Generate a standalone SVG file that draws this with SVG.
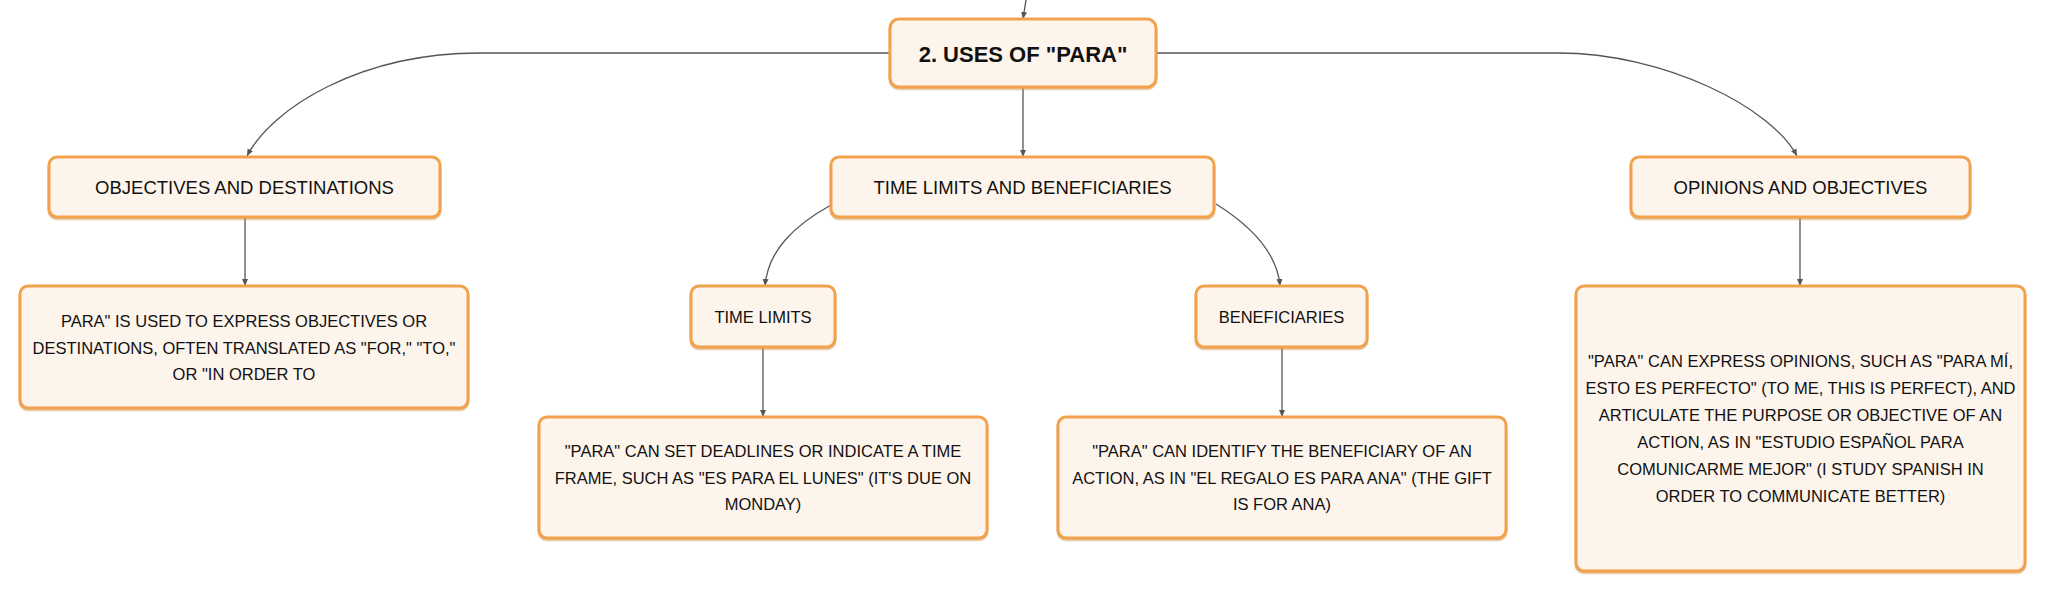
<svg xmlns="http://www.w3.org/2000/svg" width="2046" height="591" viewBox="0 0 2046 591">
<defs>
<marker id="arr" markerUnits="userSpaceOnUse" markerWidth="8" markerHeight="8" viewBox="0 0 8 8" refX="7" refY="4" orient="auto">
<path d="M0,1 L7,4 L0,7 Z" fill="#555"/>
</marker>
<filter id="sh" x="-5%" y="-5%" width="110%" height="115%">
<feDropShadow dx="0" dy="1.5" stdDeviation="0.6" flood-color="#C98A40" flood-opacity="0.55"/>
</filter>
<style>
.box{fill:#FDF4EB;stroke:#F2A24E;stroke-width:3;filter:url(#sh)}
.t{font-family:"Liberation Sans",Arial,sans-serif;fill:#111;text-anchor:middle}
.root{font-size:22px;font-weight:bold}
.l1{font-size:18.5px}
.l2{font-size:16.5px}
.b{font-size:16.5px}
.c{fill:none;stroke:#555;stroke-width:1.3;marker-end:url(#arr)}
</style>
</defs>
<rect width="2046" height="591" fill="#fff"/>
<g id="connectors">
<path class="c" d="M1026,0 L1023,19"/>
<path class="c" d="M890,53 H480 C360,53 272,108 247,156"/>
<path class="c" d="M1156,53 H1558 C1665,53 1772,108 1797,156"/>
<path class="c" d="M1023,88 V157"/>
<path class="c" d="M831,205 C795,225 768,250 765,286"/>
<path class="c" d="M1216,204 C1248,224 1277,250 1280,286"/>
<path class="c" d="M245,217 V286"/>
<path class="c" d="M763,347 V417"/>
<path class="c" d="M1282,347 V417"/>
<path class="c" d="M1800,217 V286"/>
</g>
<g id="root">
<rect class="box" x="890" y="19" width="266" height="68" rx="9"/>
<text class="t root" x="1023" y="62">2. USES OF "PARA"</text>
</g>
<g id="objectives-destinations">
<rect class="box" x="49" y="157" width="391" height="60" rx="8"/>
<text class="t l1" x="244.5" y="194">OBJECTIVES AND DESTINATIONS</text>
</g>
<g id="time-limits-beneficiaries">
<rect class="box" x="831" y="157" width="383" height="60" rx="8"/>
<text class="t l1" x="1022.5" y="194">TIME LIMITS AND BENEFICIARIES</text>
</g>
<g id="opinions-objectives">
<rect class="box" x="1631" y="157" width="339" height="60" rx="8"/>
<text class="t l1" x="1800.5" y="194">OPINIONS AND OBJECTIVES</text>
</g>
<g id="objectives-detail">
<rect class="box" x="20" y="286" width="448" height="122" rx="8"/>
<text class="t b" x="244" y="327">PARA" IS USED TO EXPRESS OBJECTIVES OR</text>
<text class="t b" x="244" y="353.5">DESTINATIONS, OFTEN TRANSLATED AS "FOR," "TO,"</text>
<text class="t b" x="244" y="380">OR "IN ORDER TO</text>
</g>
<g id="time-limits">
<rect class="box" x="691" y="286" width="144" height="61" rx="8"/>
<text class="t l2" x="763" y="323">TIME LIMITS</text>
</g>
<g id="beneficiaries">
<rect class="box" x="1196" y="286" width="171" height="61" rx="8"/>
<text class="t l2" x="1281.5" y="323">BENEFICIARIES</text>
</g>
<g id="time-limits-detail">
<rect class="box" x="539" y="417" width="448" height="121" rx="8"/>
<text class="t b" x="763" y="457">"PARA" CAN SET DEADLINES OR INDICATE A TIME</text>
<text class="t b" x="763" y="484">FRAME, SUCH AS "ES PARA EL LUNES" (IT'S DUE ON</text>
<text class="t b" x="763" y="510">MONDAY)</text>
</g>
<g id="beneficiaries-detail">
<rect class="box" x="1058" y="417" width="448" height="121" rx="8"/>
<text class="t b" x="1282" y="457">"PARA" CAN IDENTIFY THE BENEFICIARY OF AN</text>
<text class="t b" x="1282" y="484">ACTION, AS IN "EL REGALO ES PARA ANA" (THE GIFT</text>
<text class="t b" x="1282" y="510">IS FOR ANA)</text>
</g>
<g id="opinions-detail">
<rect class="box" x="1576" y="286" width="449" height="285" rx="8"/>
<text class="t b" x="1800.5" y="367">"PARA" CAN EXPRESS OPINIONS, SUCH AS "PARA MÍ,</text>
<text class="t b" x="1800.5" y="394">ESTO ES PERFECTO" (TO ME, THIS IS PERFECT), AND</text>
<text class="t b" x="1800.5" y="421">ARTICULATE THE PURPOSE OR OBJECTIVE OF AN</text>
<text class="t b" x="1800.5" y="448">ACTION, AS IN "ESTUDIO ESPAÑOL PARA</text>
<text class="t b" x="1800.5" y="475">COMUNICARME MEJOR" (I STUDY SPANISH IN</text>
<text class="t b" x="1800.5" y="502">ORDER TO COMMUNICATE BETTER)</text>
</g>
</svg>
